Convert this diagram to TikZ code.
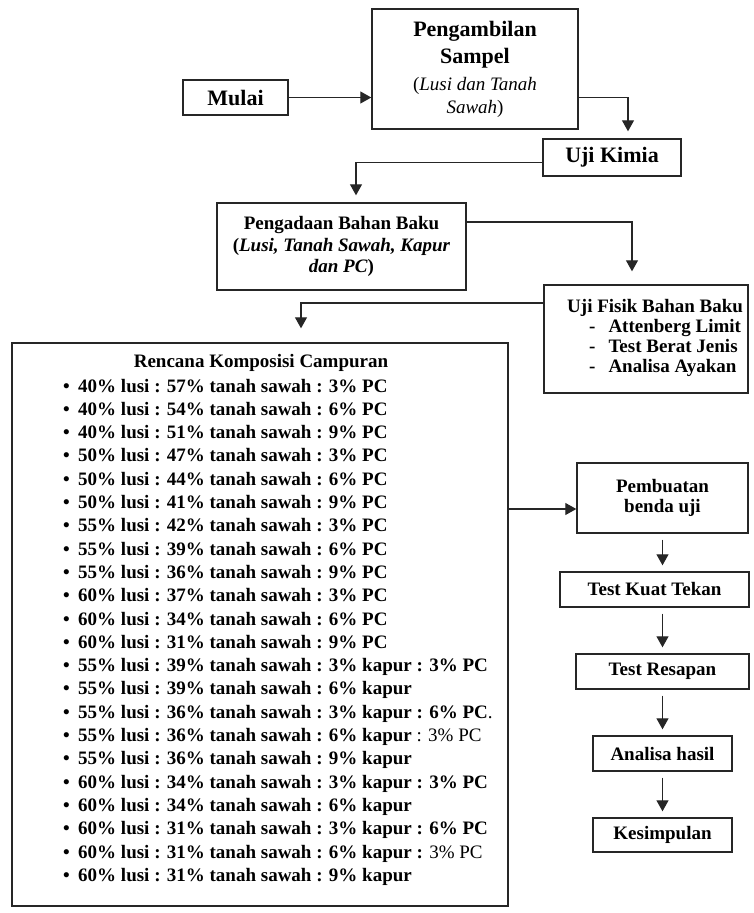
\documentclass[tikz,border=0pt]{standalone}
\usepackage{fontspec}
\setmainfont{Liberation Serif}
\usetikzlibrary{arrows.meta}

\tikzset{
  kotak/.style={draw=black!85, line width=1.4pt, inner sep=0pt, align=center,
    font=\fontsize{19}{21.5}\selectfont\bfseries},
  besar/.style={font=\fontsize{22}{27}\selectfont\bfseries},
  panah/.style={draw=black!85, line width=1.2pt, -{Triangle[length=11pt,width=12pt]}},
  butir/.style={anchor=base west, inner sep=0pt, font=\fontsize{19}{23}\selectfont\bfseries},
}

\begin{document}
\begin{tikzpicture}[x=1pt,y=-1pt]
  \useasboundingbox (0,0) rectangle (754,913);
  % Alur bagian atas
  \node[kotak, besar, minimum width=105pt, minimum height=35pt] (mulai) at (235.5,97.5) {Mulai};
  \node[kotak, besar, minimum width=206pt, minimum height=120pt] (sampel) at (475,69)
    {Pengambilan\\ Sampel\\
     {\fontsize{19}{22}\selectfont\mdseries (\textit{Lusi dan Tanah}}\\[-4pt]
     {\fontsize{19}{22}\selectfont\mdseries \textit{Sawah})}};
  \node[kotak, besar, minimum width=138pt, minimum height=37pt] (kimia) at (612,157.5) {Uji Kimia};
  \node[kotak, minimum width=249pt, minimum height=87pt] (bahan) at (341.5,246.5)
    {Pengadaan Bahan Baku\\ (\textit{Lusi, Tanah Sawah, Kapur}\\ \textit{dan PC})};
  \node[kotak, minimum width=204pt, minimum height=108pt] (fisik) at (646,339) {};
  \node[anchor=west, inner sep=0pt, align=left, font=\fontsize{19}{20}\selectfont\bfseries] (fisikteks) at (567,338)
    {Uji Fisik Bahan Baku\\ \hspace*{22pt}-\hspace*{13pt}Attenberg Limit\\
     \hspace*{22pt}-\hspace*{13pt}Test Berat Jenis\\ \hspace*{22pt}-\hspace*{13pt}Analisa Ayakan};

  % Rencana komposisi campuran
  \node[kotak, minimum width=496pt, minimum height=563pt] (campuran) at (260,624.5) {};
  \node[font=\fontsize{19}{23}\selectfont\bfseries, inner sep=0pt] (judul) at (261,363) {Rencana Komposisi Campuran};
  \foreach \isi [count=\i] in {
      40\% lusi : 57\% tanah sawah : 3\% PC, 40\% lusi : 54\% tanah sawah : 6\% PC,
      40\% lusi : 51\% tanah sawah : 9\% PC, 50\% lusi : 47\% tanah sawah : 3\% PC,
      50\% lusi : 44\% tanah sawah : 6\% PC, 50\% lusi : 41\% tanah sawah : 9\% PC,
      55\% lusi : 42\% tanah sawah : 3\% PC, 55\% lusi : 39\% tanah sawah : 6\% PC,
      55\% lusi : 36\% tanah sawah : 9\% PC, 60\% lusi : 37\% tanah sawah : 3\% PC,
      60\% lusi : 34\% tanah sawah : 6\% PC, 60\% lusi : 31\% tanah sawah : 9\% PC,
      55\% lusi : 39\% tanah sawah : 3\% kapur : 3\% PC,
      55\% lusi : 39\% tanah sawah : 6\% kapur,
      55\% lusi : 36\% tanah sawah : 3\% kapur : 6\% PC\mdseries.,
      55\% lusi : 36\% tanah sawah : 6\% kapur\mdseries{} : 3\% PC,
      55\% lusi : 36\% tanah sawah : 9\% kapur,
      60\% lusi : 34\% tanah sawah : 3\% kapur : 3\% PC,
      60\% lusi : 34\% tanah sawah : 6\% kapur,
      60\% lusi : 31\% tanah sawah : 3\% kapur : 6\% PC,
      60\% lusi : 31\% tanah sawah : 6\% kapur :\mdseries{} 3\% PC,
      60\% lusi : 31\% tanah sawah : 9\% kapur}
    \node[butir] (item\i) at (63,{392+(\i-1)*23.3}) {\textbullet\hspace{8.4pt}\isi};

  % Alur bagian kanan
  \node[kotak, minimum width=171pt, minimum height=70pt, font=\fontsize{19}{20}\selectfont\bfseries] (benda) at (662.5,498) {Pembuatan\\ benda uji};
  \node[kotak, minimum width=189pt, minimum height=35pt] (tekan) at (654.5,589.5) {Test Kuat Tekan};
  \node[kotak, minimum width=173pt, minimum height=35pt] (resapan) at (662.5,671.5) {Test Resapan};
  \node[kotak, minimum width=139pt, minimum height=35pt] (hasil) at (662.5,753.5) {Analisa hasil};
  \node[kotak, minimum width=139pt, minimum height=34pt] (simpulan) at (662.5,835) {Kesimpulan};

  % Panah penghubung
  \draw[panah] (mulai.east) -- (mulai.east -| sampel.west);
  \draw[panah, shorten >=7pt] (mulai.east -| sampel.east) -| ([xshift=16pt]kimia.north);
  \draw[panah, shorten >=7pt] ([yshift=-5pt]kimia.west) -| ([xshift=14.5pt]bahan.north);
  \draw[panah, shorten >=13pt] ([yshift=24.5pt]bahan.east) -| ([xshift=-14pt]fisik.north);
  \draw[panah, shorten >=14pt] ([yshift=36pt]fisik.west) -| ([xshift=41pt]campuran.north);
  \draw[panah] ([yshift=-11pt]benda.west -| campuran.east) -- ([yshift=-11pt]benda.west);
  \foreach \a/\b in {benda/tekan, tekan/resapan, resapan/hasil, hasil/simpulan}
    \draw[panah, shorten <=6pt, shorten >=6pt] (\a.south -| benda.south) -- (\b.north -| benda.south);
\end{tikzpicture}
\end{document}
